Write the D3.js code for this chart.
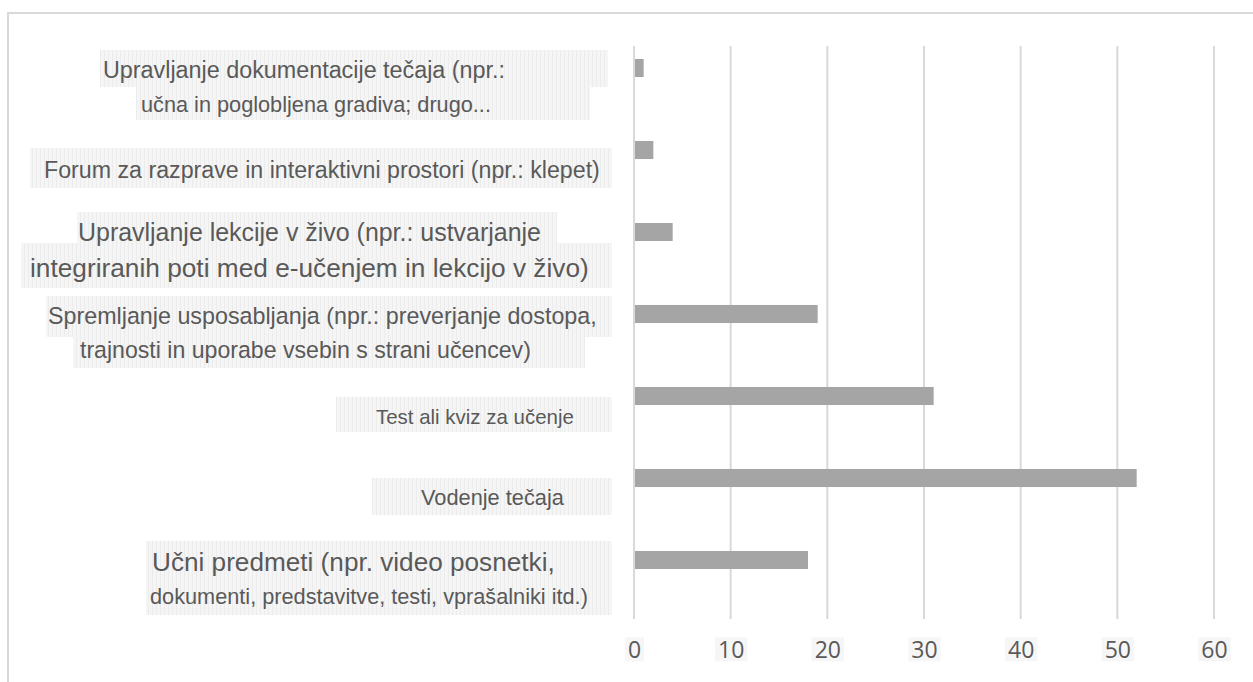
<!DOCTYPE html>
<html>
<head>
<meta charset="utf-8">
<title>bar chart</title>
<script src="https://cdn.jsdelivr.net/npm/d3@7"></script>
<style>
  body{margin:0;background:#fff;font-family:"Liberation Sans",Arial,sans-serif;}
  .xlab text{font-family:"Open Sans",Lato,sans-serif;font-size:23px;}
</style>
</head>
<body>
<div id="container"></div>
<script>
// data, top to bottom
var categories = [
  ["Upravljanje dokumentacije tečaja (npr.:", "učna in poglobljena gradiva; drugo..."],
  ["Forum za razprave in interaktivni prostori (npr.: klepet)"],
  ["Upravljanje lekcije v živo (npr.: ustvarjanje", "integriranih poti med e-učenjem in lekcijo v živo)"],
  ["Spremljanje usposabljanja (npr.: preverjanje dostopa,", "trajnosti in uporabe vsebin s strani učencev)"],
  ["Test ali kviz za učenje"],
  ["Vodenje tečaja"],
  ["Učni predmeti (npr. video posnetki,", "dokumenti, predstavitve, testi, vprašalniki itd.)"]
];
var values = [1, 2, 4, 19, 31, 52, 18];
var xTicks = [0, 10, 20, 30, 40, 50, 60];

// label layout: text x range, offset from band centre, background box
var labelLayout = [
  [{x0:103,x1:505,dy:2, bg:[100,608,-18,19]}, {x0:141,x1:491,dy:36,bg:[136,590,18,52]}],
  [{x0:44, x1:600,dy:20,bg:[30,612,-2,38]}],
  [{x0:78, x1:541,dy:0, bg:[77,557,-20,23]},  {x0:30,x1:589,dy:36,bg:[21,612,11,56]}],
  [{x0:48, x1:597,dy:2, bg:[46,612,-18,23]},  {x0:80,x1:531,dy:36,bg:[73,585,16,54]}],
  [{x0:376,x1:574,dy:20,bg:[336,612,1,36]}],
  [{x0:421,x1:564,dy:19,bg:[372,612,0,37]}],
  [{x0:152,x1:555,dy:2, bg:[146,612,-19,20]}, {x0:150,x1:588,dy:36,bg:[146,612,16,55]}]
];

var W = 1253, H = 682;
var plot = {left:634, right:1214, top:46, bottom:619};

var svg = d3.select("#container").append("svg")
    .attr("width", W).attr("height", H);

// striped background pattern used behind the labels
var defs = svg.append("defs");
var pat = defs.append("pattern").attr("id","stripes")
    .attr("patternUnits","userSpaceOnUse").attr("width",4).attr("height",4);
pat.append("rect").attr("width",4).attr("height",4).attr("fill","#f5f5f5");
pat.append("rect").attr("width",1).attr("height",4).attr("fill","#ececec");

// chart border (top and left visible)
svg.append("rect")
    .attr("x",8).attr("y",13).attr("width",W).attr("height",H)
    .attr("fill","none").attr("stroke","#d9d9d9").attr("stroke-width",2);

var xScale = d3.scaleLinear().domain([0,60]).range([plot.left, plot.right]);
var yScale = d3.scaleBand().domain(d3.range(categories.length))
    .range([27, 601]).paddingInner(0.78).paddingOuter(0.39);

// gridlines
svg.append("g").selectAll("line").data(xTicks).join("line")
    .attr("x1", d=>xScale(d)).attr("x2", d=>xScale(d))
    .attr("y1", plot.top).attr("y2", plot.bottom)
    .attr("stroke","#d9d9d9").attr("stroke-width",2);

// bars
svg.append("g").selectAll("rect").data(values).join("rect")
    .attr("x", xScale(0)+1)
    .attr("y", (d,i)=>yScale(i))
    .attr("width", d=>xScale(d)-xScale(0)-1)
    .attr("height", yScale.bandwidth())
    .attr("fill","#a5a5a5");

// x axis labels
var xAxis = d3.axisBottom(xScale).tickValues(xTicks).tickSize(0).tickPadding(0);
var gx = svg.append("g").attr("class","xlab")
    .attr("transform","translate(0,641)")
    .call(xAxis);
gx.select(".domain").remove();
gx.selectAll(".tick text").attr("dy","0.75em").attr("fill","#595959");
gx.selectAll(".tick").each(function(){
  var t = d3.select(this).select("text").node().getBBox();
  d3.select(this).insert("rect","text")
    .attr("x", t.x-3).attr("width", t.width+6)
    .attr("y", t.y+4).attr("height", t.height-8)
    .attr("fill","#f6f6f6");
});

// category labels
var gl = svg.append("g");
categories.forEach(function(lines, i){
  var cy = yScale(i) + yScale.bandwidth()/2;
  lines.forEach(function(txt, j){
    var L = labelLayout[i][j];
    gl.append("rect")
      .attr("x", L.bg[0]).attr("y", cy+L.bg[2])
      .attr("width", L.bg[1]-L.bg[0]).attr("height", L.bg[3]-L.bg[2])
      .attr("fill","url(#stripes)");
  });
});
categories.forEach(function(lines, i){
  var cy = yScale(i) + yScale.bandwidth()/2;
  lines.forEach(function(txt, j){
    var L = labelLayout[i][j];
    var t = gl.append("text")
      .attr("x", L.x0).attr("y", cy+L.dy)
      .attr("dominant-baseline","central")
      .attr("fill","#595959")
      .style("font-size","20px")
      .text(txt);
    var w = t.node().getComputedTextLength();
    t.style("font-size", (20*(L.x1-L.x0)/w).toFixed(2)+"px");
  });
});
</script>
</body>
</html>
